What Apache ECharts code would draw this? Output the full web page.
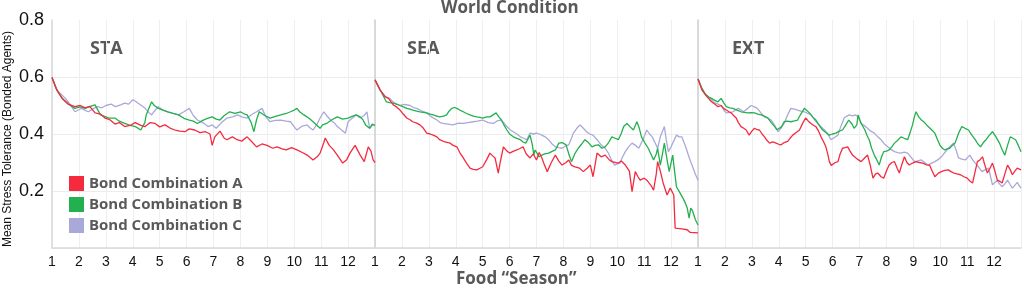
<!DOCTYPE html>
<html>
<head>
<meta charset="utf-8">
<script src="https://cdn.jsdelivr.net/npm/echarts@6/dist/echarts.min.js"></script>
<style>
  html, body { margin: 0; padding: 0; background: #fff; }
  #chart { width: 1024px; height: 291px; }
</style>
</head>
<body>
<div id="chart"></div>
<script>
const panels = ["STA", "SEA", "EXT"]
const seriesNames = ["Bond Combination A", "Bond Combination B", "Bond Combination C"]
const seasonLabels = ["1", "2", "3", "4", "5", "6", "7", "8", "9", "10", "11", "12"]
const yTicks = [0, 0.2, 0.4, 0.6, 0.8]

// [season offset, mean stress tolerance]
const staA = [[0,0.598],[0.15,0.56],[0.37,0.526],[0.6,0.505],[0.85,0.496],[1.05,0.5],[1.23,0.492],[1.4,0.497],[1.6,0.474],[1.8,0.47],[1.97,0.456],[2.15,0.45],[2.34,0.435],[2.5,0.44],[2.7,0.426],[2.9,0.43],[3.09,0.44],[3.3,0.43],[3.46,0.426],[3.65,0.44],[3.83,0.437],[4.0,0.425],[4.2,0.432],[4.4,0.42],[4.57,0.414],[4.75,0.41],[4.94,0.408],[5.1,0.418],[5.3,0.414],[5.5,0.405],[5.7,0.408],[5.87,0.4],[5.95,0.36],[6.05,0.39],[6.24,0.41],[6.4,0.385],[6.5,0.38],[6.7,0.39],[6.88,0.38],[7.05,0.375],[7.25,0.39],[7.45,0.37],[7.6,0.355],[7.8,0.365],[7.99,0.36],[8.2,0.35],[8.36,0.355],[8.55,0.348],[8.7,0.344],[8.9,0.352],[9.1,0.344],[9.3,0.335],[9.48,0.326],[9.7,0.309],[9.85,0.32],[9.96,0.333],[10.1,0.37],[10.15,0.386],[10.3,0.36],[10.45,0.345],[10.6,0.326],[10.8,0.298],[10.95,0.31],[11.07,0.333],[11.26,0.36],[11.45,0.326],[11.6,0.303],[11.75,0.355],[11.85,0.34],[11.93,0.309],[12,0.3]]
const staB = [[0,0.598],[0.2,0.55],[0.4,0.522],[0.6,0.505],[0.85,0.49],[1.05,0.495],[1.23,0.49],[1.45,0.498],[1.6,0.502],[1.8,0.467],[2.0,0.46],[2.1,0.456],[2.34,0.456],[2.5,0.445],[2.7,0.437],[2.9,0.43],[3.1,0.426],[3.3,0.414],[3.45,0.44],[3.5,0.467],[3.7,0.513],[3.8,0.5],[3.95,0.49],[4.1,0.485],[4.3,0.478],[4.5,0.472],[4.7,0.467],[4.9,0.455],[5.1,0.449],[5.25,0.445],[5.4,0.437],[5.6,0.448],[5.8,0.456],[5.95,0.46],[6.1,0.452],[6.24,0.449],[6.4,0.465],[6.6,0.478],[6.8,0.472],[7.0,0.478],[7.15,0.47],[7.25,0.467],[7.4,0.44],[7.5,0.408],[7.6,0.45],[7.7,0.478],[7.9,0.465],[8.1,0.456],[8.3,0.462],[8.5,0.467],[8.7,0.472],[8.86,0.478],[9.0,0.484],[9.1,0.49],[9.2,0.478],[9.36,0.467],[9.55,0.455],[9.7,0.443],[9.85,0.43],[9.96,0.42],[10.05,0.432],[10.2,0.437],[10.4,0.45],[10.6,0.46],[10.8,0.452],[11.0,0.456],[11.15,0.462],[11.3,0.467],[11.45,0.46],[11.55,0.45],[11.65,0.432],[11.8,0.42],[11.9,0.435],[12,0.43]]
const staC = [[0,0.598],[0.2,0.552],[0.5,0.525],[0.7,0.5],[0.85,0.478],[1.0,0.485],[1.1,0.49],[1.25,0.482],[1.35,0.478],[1.55,0.49],[1.7,0.496],[1.85,0.492],[2.0,0.5],[2.2,0.505],[2.35,0.496],[2.55,0.502],[2.7,0.508],[2.85,0.505],[3.0,0.52],[3.1,0.515],[3.2,0.508],[3.35,0.498],[3.46,0.49],[3.6,0.475],[3.7,0.467],[3.8,0.48],[3.95,0.496],[4.1,0.485],[4.3,0.478],[4.5,0.472],[4.7,0.467],[4.9,0.478],[5.1,0.49],[5.25,0.465],[5.4,0.449],[5.6,0.44],[5.8,0.426],[5.95,0.432],[6.1,0.42],[6.3,0.44],[6.5,0.456],[6.7,0.46],[6.9,0.467],[7.05,0.46],[7.25,0.456],[7.45,0.47],[7.6,0.478],[7.8,0.49],[7.95,0.46],[8.1,0.443],[8.3,0.448],[8.5,0.449],[8.7,0.445],[8.86,0.443],[9.0,0.425],[9.1,0.414],[9.3,0.428],[9.48,0.432],[9.6,0.42],[9.7,0.414],[9.85,0.435],[9.96,0.456],[10.1,0.478],[10.2,0.465],[10.35,0.449],[10.5,0.438],[10.6,0.426],[10.75,0.415],[10.9,0.403],[11.0,0.443],[11.15,0.455],[11.3,0.467],[11.45,0.456],[11.6,0.465],[11.7,0.478],[11.8,0.42],[11.9,0.43],[12,0.432]]

const seaA = [[0,0.59],[0.19,0.554],[0.37,0.531],[0.5,0.525],[0.68,0.502],[0.8,0.495],[0.93,0.484],[1.05,0.47],[1.18,0.456],[1.3,0.45],[1.4,0.443],[1.55,0.438],[1.67,0.432],[1.8,0.42],[1.92,0.403],[2.05,0.4],[2.16,0.396],[2.3,0.39],[2.4,0.38],[2.6,0.372],[2.79,0.368],[2.9,0.36],[3.04,0.355],[3.15,0.335],[3.28,0.316],[3.4,0.298],[3.53,0.28],[3.65,0.276],[3.78,0.274],[3.9,0.28],[4.0,0.285],[4.15,0.31],[4.27,0.333],[4.35,0.325],[4.46,0.316],[4.58,0.263],[4.65,0.3],[4.77,0.355],[4.9,0.34],[5.0,0.333],[5.15,0.34],[5.27,0.344],[5.4,0.35],[5.5,0.355],[5.62,0.33],[5.76,0.316],[5.88,0.33],[6.0,0.309],[6.1,0.335],[6.2,0.316],[6.3,0.29],[6.4,0.268],[6.55,0.3],[6.7,0.326],[6.83,0.305],[6.95,0.291],[7.1,0.3],[7.2,0.309],[7.3,0.29],[7.43,0.285],[7.6,0.28],[7.74,0.268],[7.88,0.28],[8.0,0.291],[8.1,0.25],[8.25,0.333],[8.4,0.32],[8.55,0.326],[8.7,0.31],[8.8,0.303],[9.04,0.298],[9.15,0.305],[9.3,0.291],[9.45,0.27],[9.55,0.198],[9.67,0.268],[9.77,0.25],[9.85,0.238],[10.0,0.245],[10.1,0.238],[10.25,0.22],[10.35,0.203],[10.45,0.26],[10.5,0.303],[10.6,0.27],[10.7,0.23],[10.85,0.186],[10.97,0.21],[11.1,0.186],[11.15,0.07],[11.4,0.067],[11.6,0.064],[11.7,0.055],[12,0.053]]
const seaB = [[0,0.59],[0.19,0.555],[0.42,0.513],[0.55,0.51],[0.68,0.508],[0.8,0.505],[0.93,0.5],[1.05,0.495],[1.18,0.49],[1.3,0.487],[1.4,0.484],[1.55,0.48],[1.67,0.478],[1.8,0.476],[1.92,0.474],[2.05,0.47],[2.16,0.467],[2.3,0.463],[2.4,0.46],[2.55,0.463],[2.66,0.467],[2.75,0.48],[2.85,0.49],[2.95,0.493],[3.04,0.49],[3.15,0.484],[3.28,0.478],[3.4,0.472],[3.53,0.467],[3.65,0.463],[3.78,0.46],[3.9,0.458],[4.0,0.456],[4.15,0.46],[4.27,0.46],[4.4,0.468],[4.5,0.474],[4.6,0.46],[4.7,0.449],[4.8,0.43],[4.9,0.414],[5.0,0.4],[5.14,0.39],[5.27,0.385],[5.4,0.38],[5.5,0.372],[5.6,0.368],[5.7,0.385],[5.76,0.396],[5.85,0.36],[5.9,0.326],[5.95,0.344],[6.1,0.32],[6.2,0.326],[6.3,0.33],[6.45,0.333],[6.6,0.34],[6.7,0.344],[6.83,0.368],[6.95,0.37],[7.1,0.362],[7.2,0.33],[7.3,0.303],[7.42,0.33],[7.55,0.35],[7.68,0.365],[7.8,0.38],[7.93,0.37],[8.06,0.355],[8.18,0.36],[8.3,0.362],[8.43,0.35],[8.55,0.355],[8.68,0.37],[8.8,0.39],[8.92,0.385],[9.04,0.38],[9.14,0.4],[9.24,0.426],[9.36,0.437],[9.48,0.425],[9.6,0.414],[9.73,0.443],[9.82,0.42],[9.9,0.39],[10.02,0.37],[10.15,0.35],[10.25,0.33],[10.35,0.309],[10.45,0.33],[10.5,0.35],[10.6,0.291],[10.68,0.33],[10.75,0.368],[10.85,0.31],[10.93,0.268],[11.06,0.326],[11.13,0.27],[11.2,0.215],[11.32,0.195],[11.44,0.175],[11.52,0.16],[11.6,0.14],[11.67,0.105],[11.73,0.14],[11.8,0.13],[11.9,0.1],[12,0.081]]
const seaC = [[0,0.59],[0.19,0.555],[0.4,0.53],[0.55,0.525],[0.7,0.51],[0.8,0.505],[0.93,0.5],[1.1,0.504],[1.3,0.5],[1.45,0.492],[1.55,0.49],[1.75,0.48],[1.92,0.474],[2.1,0.46],[2.3,0.449],[2.42,0.44],[2.54,0.437],[2.7,0.435],[2.9,0.432],[3.1,0.438],[3.28,0.437],[3.45,0.44],[3.65,0.443],[3.8,0.445],[4.0,0.449],[4.2,0.44],[4.4,0.437],[4.52,0.445],[4.65,0.449],[4.78,0.44],[4.9,0.426],[5.02,0.415],[5.14,0.408],[5.27,0.4],[5.4,0.39],[5.52,0.385],[5.64,0.38],[5.76,0.403],[5.88,0.4],[6.0,0.403],[6.1,0.4],[6.2,0.396],[6.32,0.39],[6.45,0.38],[6.58,0.365],[6.7,0.355],[6.83,0.352],[6.95,0.35],[7.08,0.358],[7.2,0.362],[7.3,0.385],[7.37,0.403],[7.5,0.42],[7.62,0.432],[7.74,0.42],[7.86,0.408],[7.98,0.4],[8.1,0.396],[8.25,0.38],[8.4,0.362],[8.55,0.35],[8.67,0.333],[8.78,0.31],[8.9,0.291],[9.0,0.295],[9.1,0.298],[9.2,0.32],[9.3,0.338],[9.42,0.355],[9.55,0.368],[9.68,0.36],[9.8,0.35],[9.95,0.38],[10.1,0.414],[10.2,0.4],[10.3,0.39],[10.4,0.37],[10.5,0.35],[10.6,0.39],[10.75,0.426],[10.82,0.38],[10.9,0.338],[11.0,0.355],[11.06,0.368],[11.2,0.396],[11.3,0.39],[11.4,0.39],[11.48,0.37],[11.56,0.35],[11.68,0.315],[11.8,0.285],[11.9,0.26],[12,0.238]]

const extA = [[0,0.593],[0.15,0.554],[0.33,0.531],[0.5,0.513],[0.62,0.505],[0.74,0.496],[0.86,0.5],[0.95,0.49],[1.05,0.484],[1.15,0.478],[1.23,0.474],[1.32,0.465],[1.42,0.456],[1.5,0.44],[1.6,0.426],[1.7,0.42],[1.79,0.414],[1.9,0.396],[2.0,0.41],[2.1,0.42],[2.2,0.415],[2.28,0.414],[2.38,0.4],[2.47,0.39],[2.56,0.378],[2.66,0.368],[2.78,0.372],[2.9,0.368],[3.0,0.364],[3.09,0.362],[3.2,0.37],[3.33,0.374],[3.42,0.385],[3.52,0.396],[3.65,0.405],[3.77,0.414],[3.9,0.44],[4.0,0.456],[4.1,0.445],[4.2,0.437],[4.3,0.43],[4.38,0.426],[4.48,0.41],[4.57,0.39],[4.67,0.372],[4.75,0.355],[4.82,0.33],[4.88,0.303],[4.95,0.29],[5.0,0.285],[5.1,0.3],[5.2,0.303],[5.28,0.33],[5.37,0.35],[5.46,0.352],[5.56,0.355],[5.65,0.34],[5.74,0.326],[5.87,0.316],[5.95,0.31],[6.06,0.303],[6.18,0.315],[6.3,0.326],[6.4,0.29],[6.5,0.245],[6.6,0.26],[6.68,0.263],[6.8,0.25],[6.9,0.245],[7.0,0.27],[7.1,0.291],[7.2,0.3],[7.3,0.303],[7.4,0.28],[7.48,0.263],[7.58,0.295],[7.67,0.32],[7.76,0.3],[7.85,0.291],[7.97,0.298],[8.1,0.303],[8.22,0.3],[8.35,0.298],[8.48,0.292],[8.6,0.291],[8.7,0.27],[8.8,0.25],[8.92,0.262],[9.04,0.268],[9.17,0.272],[9.3,0.274],[9.4,0.268],[9.5,0.263],[9.62,0.26],[9.75,0.257],[9.88,0.25],[10.0,0.245],[10.1,0.235],[10.2,0.228],[10.3,0.27],[10.38,0.303],[10.48,0.31],[10.57,0.32],[10.66,0.29],[10.75,0.263],[10.85,0.28],[10.94,0.298],[11.03,0.27],[11.12,0.238],[11.2,0.235],[11.3,0.228],[11.4,0.26],[11.5,0.291],[11.6,0.275],[11.68,0.257],[11.77,0.27],[11.86,0.28],[11.93,0.275],[12,0.274]]
const extB = [[0,0.593],[0.15,0.56],[0.27,0.54],[0.4,0.53],[0.5,0.525],[0.62,0.518],[0.74,0.513],[0.86,0.525],[0.95,0.51],[1.05,0.496],[1.18,0.492],[1.3,0.49],[1.45,0.484],[1.6,0.478],[1.72,0.476],[1.85,0.474],[1.97,0.475],[2.1,0.474],[2.22,0.47],[2.35,0.467],[2.48,0.462],[2.6,0.456],[2.72,0.44],[2.85,0.426],[2.93,0.415],[3.0,0.408],[3.1,0.425],[3.2,0.443],[3.32,0.445],[3.45,0.443],[3.58,0.446],[3.7,0.449],[3.82,0.47],[3.95,0.49],[4.05,0.482],[4.14,0.474],[4.26,0.46],[4.38,0.449],[4.5,0.43],[4.63,0.414],[4.75,0.405],[4.88,0.396],[5.0,0.4],[5.12,0.403],[5.25,0.41],[5.37,0.414],[5.48,0.43],[5.6,0.449],[5.72,0.435],[5.8,0.42],[5.9,0.432],[5.95,0.467],[6.05,0.44],[6.2,0.414],[6.28,0.395],[6.36,0.38],[6.45,0.35],[6.55,0.326],[6.64,0.31],[6.73,0.291],[6.82,0.32],[6.9,0.338],[7.0,0.34],[7.1,0.344],[7.2,0.355],[7.3,0.368],[7.42,0.378],[7.54,0.39],[7.66,0.385],[7.79,0.38],[7.88,0.405],[7.97,0.432],[8.04,0.46],[8.1,0.478],[8.2,0.46],[8.3,0.449],[8.42,0.44],[8.55,0.426],[8.68,0.415],[8.8,0.403],[8.9,0.38],[8.98,0.362],[9.08,0.35],[9.17,0.344],[9.26,0.348],[9.35,0.35],[9.45,0.36],[9.55,0.368],[9.67,0.4],[9.8,0.426],[9.92,0.42],[10.05,0.414],[10.18,0.395],[10.3,0.38],[10.4,0.365],[10.5,0.355],[10.6,0.37],[10.7,0.38],[10.82,0.395],[10.94,0.408],[11.07,0.39],[11.2,0.368],[11.3,0.345],[11.4,0.326],[11.5,0.36],[11.6,0.39],[11.7,0.385],[11.8,0.38],[11.9,0.36],[12,0.338]]
const extC = [[0,0.593],[0.15,0.556],[0.3,0.535],[0.45,0.525],[0.6,0.51],[0.74,0.505],[0.86,0.5],[0.95,0.485],[1.05,0.474],[1.18,0.476],[1.3,0.478],[1.4,0.485],[1.5,0.49],[1.6,0.484],[1.7,0.478],[1.85,0.49],[1.97,0.5],[2.1,0.495],[2.2,0.49],[2.33,0.475],[2.47,0.46],[2.6,0.455],[2.72,0.449],[2.85,0.43],[2.97,0.408],[3.08,0.42],[3.2,0.437],[3.32,0.465],[3.45,0.49],[3.58,0.487],[3.7,0.484],[3.82,0.48],[3.95,0.478],[4.08,0.472],[4.2,0.467],[4.32,0.45],[4.45,0.437],[4.58,0.425],[4.7,0.414],[4.82,0.4],[4.94,0.38],[5.07,0.388],[5.2,0.396],[5.3,0.425],[5.43,0.456],[5.52,0.462],[5.62,0.467],[5.74,0.464],[5.86,0.467],[5.95,0.46],[6.06,0.437],[6.18,0.43],[6.3,0.42],[6.42,0.41],[6.55,0.403],[6.68,0.39],[6.8,0.38],[6.92,0.365],[7.05,0.355],[7.18,0.345],[7.3,0.338],[7.42,0.335],[7.54,0.333],[7.66,0.336],[7.79,0.333],[7.92,0.318],[8.04,0.303],[8.17,0.306],[8.3,0.309],[8.42,0.3],[8.55,0.291],[8.68,0.298],[8.8,0.303],[8.92,0.31],[9.04,0.32],[9.17,0.335],[9.3,0.35],[9.4,0.36],[9.5,0.368],[9.6,0.34],[9.68,0.316],[9.8,0.312],[9.93,0.309],[10.02,0.318],[10.1,0.326],[10.2,0.31],[10.3,0.298],[10.42,0.285],[10.55,0.268],[10.68,0.275],[10.8,0.28],[10.87,0.25],[10.94,0.222],[11.03,0.23],[11.12,0.238],[11.2,0.225],[11.3,0.215],[11.4,0.225],[11.5,0.238],[11.6,0.222],[11.68,0.21],[11.77,0.22],[11.86,0.23],[11.93,0.22],[12,0.21]]

const panelData = [[staA, staB, staC], [seaA, seaB, seaC], [extA, extB, extC]]
const colors = ["#f52a3f", "#23b04e", "#a9a9d9"]

const chart = echarts.init(document.getElementById("chart"))

const gridLefts = [52, 375, 698]
const grids = gridLefts.map(l => ({ left: l, width: 323, top: 20, height: 228 }))

const xAxes = grids.map((g, i) => ({
  type: "value",
  gridIndex: i,
  min: 0,
  max: 12,
  interval: 1,
  axisLine: { show: true, lineStyle: { color: "#d9d9d9", width: 1.5 } },
  axisTick: { show: false },
  axisLabel: {
    color: "#111",
    fontSize: 14,
    fontFamily: "Liberation Sans",
    margin: 7,
    formatter: v => (v < 12 ? seasonLabels[v] : "")
  },
  splitLine: { show: true, lineStyle: { color: "#efefef", width: 1 } }
}))

const yAxes = grids.map((g, i) => ({
  type: "value",
  gridIndex: i,
  min: yTicks[0],
  max: yTicks[yTicks.length - 1],
  interval: 0.2,
  axisLine: { show: true, lineStyle: { color: i === 0 ? "#d9d9d9" : "#cfcfcf", width: 1.5 } },
  axisTick: { show: false },
  axisLabel: {
    show: i === 0,
    color: "#111",
    fontSize: 18,
    fontFamily: "Liberation Sans",
    margin: 8,
    formatter: v => (v === 0 ? "" : v.toFixed(1))
  },
  splitLine: {
    show: true,
    lineStyle: { color: ["#ececec", "#ececec", "#ececec", "#ececec", "rgba(0,0,0,0)"], width: 1 }
  }
}))

const series = []
panelData.forEach((sets, p) => {
  // draw C first, then B, then A on top
  [2, 1, 0].forEach(k => {
    series.push({
      name: seriesNames[k],
      type: "line",
      xAxisIndex: p,
      yAxisIndex: p,
      data: sets[k],
      showSymbol: false,
      symbol: "none",
      lineStyle: { color: colors[k], width: 1.3 },
      itemStyle: { color: colors[k] },
      z: 3 - k
    })
  })
})

const grey = "#595959"
const boldText = (text, size) => ({
  text,
  fill: grey,
  fontSize: size,
  fontWeight: "bold",
  fontFamily: "Open Sans"
})

const option = {
  animation: false,
  backgroundColor: "#fff",
  grid: grids,
  xAxis: xAxes,
  yAxis: yAxes,
  legend: {
    data: seriesNames,
    orient: "vertical",
    left: 64,
    top: 171,
    icon: "rect",
    itemWidth: 15,
    itemHeight: 15,
    itemGap: 6,
    textStyle: { color: grey, fontSize: 15, fontWeight: "bold", fontFamily: "Open Sans" }
  },
  graphic: [
    { type: "text", left: 441, top: 0, style: boldText("World Condition", 17) },
    { type: "text", left: 456, top: 271, style: boldText("Food \u201cSeason\u201d", 17) },
    {
      type: "text",
      x: 8,
      y: 139,
      rotation: Math.PI / 2,
      style: {
        text: "Mean Stress Tolerance (Bonded Agents)",
        fill: "#111",
        fontSize: 12,
        fontFamily: "Liberation Sans",
        align: "center",
        verticalAlign: "middle"
      }
    },
    ...panels.map((t, i) => ({
      type: "text",
      left: [90, 407, 732][i],
      top: 40,
      style: boldText(t, 18)
    }))
  ],
  series
}

chart.setOption(option)
</script>
</body>
</html>
